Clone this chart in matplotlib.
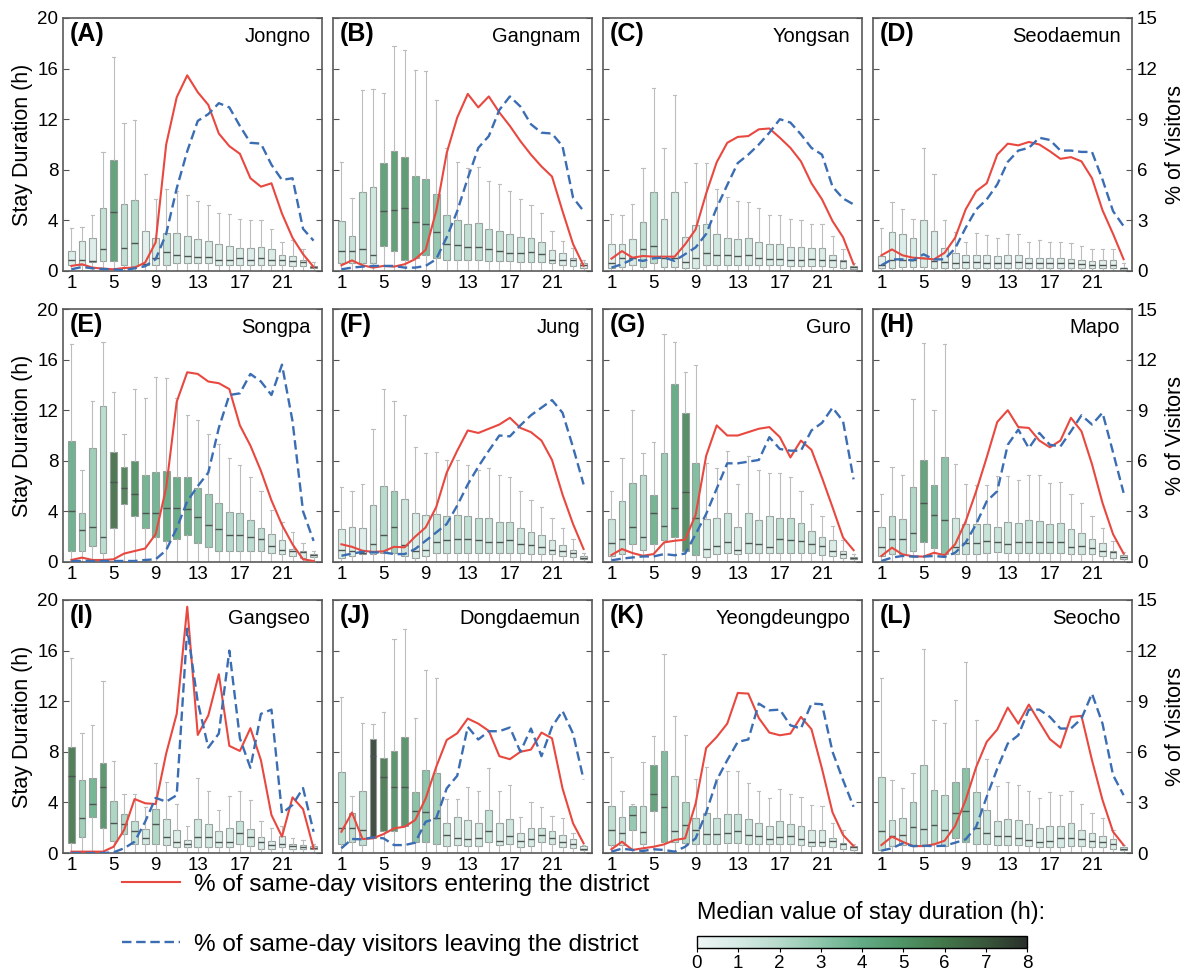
import numpy as np
import matplotlib
matplotlib.use("Agg")
import matplotlib.pyplot as plt
from matplotlib.colors import LinearSegmentedColormap, Normalize
from matplotlib.cm import ScalarMappable
from matplotlib.lines import Line2D

plt.rcParams['font.family'] = ['Liberation Sans', 'DejaVu Sans']

hours = list(range(1, 25))
letters = ['A', 'B', 'C', 'D', 'E', 'F', 'G', 'H', 'I', 'J', 'K', 'L']
districts = ['Jongno', 'Gangnam', 'Yongsan', 'Seodaemun', 'Songpa', 'Jung',
             'Guro', 'Mapo', 'Gangseo', 'Dongdaemun', 'Yeongdeungpo', 'Seocho']

# stay duration boxes (h): q1, median, q3, upper whisker; lower whiskers reach 0
jongno_q1 = [0.5,0.5,0.7,0.8,0.8,0.5,0.4,0.5,0.5,0.5,0.6,0.6,0.6,0.6,0.5,0.5,0.5,0.5,0.5,0.5,0.45,0.4,0.4,0.2]
jongno_med = [0.85,0.9,0.8,1.7,4.7,1.8,2.2,0.55,1.05,1.5,1.3,1.2,1.1,1.1,0.9,0.9,1.0,0.85,1.0,0.9,0.85,0.8,0.7,0.3]
jongno_q3 = [1.6,2.4,2.6,5.0,8.8,5.3,5.6,3.2,2.6,3.0,3.0,2.8,2.5,2.4,2.1,2.0,1.8,1.8,1.9,1.7,1.25,1.2,0.9,0.4]
jongno_whi = [3.4,3.5,4.4,9.4,16.9,11.7,11.9,7.7,5.7,6.5,6.3,6.0,5.5,5.2,4.6,4.5,4.1,4.0,4.0,3.3,2.3,2.45,1.7,0.7]
jongno_in = [0.3,0.4,0.2,0.14,0.1,0.18,0.2,0.5,1.7,7.5,10.3,11.6,10.6,9.85,8.15,7.4,6.95,5.5,5.0,5.2,3.4,1.97,1.0,0.24]
jongno_out = [0.1,0.24,0.16,0.12,0.1,0.04,0.16,0.28,0.7,2.2,4.9,7.1,8.9,9.3,9.95,9.7,8.6,7.6,7.55,6.3,5.4,5.5,2.5,1.8]

gangnam_q1 = [0.6,0.6,0.6,0.6,2.0,1.6,0.85,1.05,1.25,1.05,0.9,0.9,0.85,0.85,0.8,0.8,0.8,0.75,0.75,0.75,0.65,0.5,0.4,0.25]
gangnam_med = [1.6,1.6,1.75,1.3,4.75,4.8,5.0,3.9,3.7,3.05,2.1,2.05,1.9,1.9,1.75,1.6,1.45,1.45,1.5,1.35,0.9,0.85,0.85,0.45]
gangnam_q3 = [3.95,2.75,6.25,6.65,8.5,9.5,9.05,7.5,7.25,6.1,4.4,4.0,3.75,3.8,3.3,3.2,2.9,2.7,2.6,2.3,1.65,1.4,1.05,0.6]
gangnam_whi = [8.6,5.8,14.3,14.4,14.1,17.8,17.5,15.9,15.8,13.5,9.7,8.6,8.15,8.25,7.1,6.85,6.3,5.7,5.2,4.55,3.15,2.35,1.8,0.9]
gangnam_in = [0.34,0.63,0.34,0.2,0.3,0.26,0.4,0.7,1.25,3.55,7.0,9.1,10.5,9.7,10.35,9.4,8.6,7.7,6.9,6.2,5.6,3.55,1.6,0.3]
gangnam_out = [0.1,0.2,0.26,0.3,0.3,0.3,0.2,0.2,0.3,0.7,2.0,3.55,5.5,7.3,8.0,9.55,10.35,9.75,8.7,8.2,8.15,7.4,4.35,3.55]

yongsan_q1 = [0.25,0.3,0.45,0.3,0.6,0.3,0.3,0.25,0.25,0.5,0.5,0.5,0.45,0.45,0.5,0.45,0.45,0.4,0.4,0.4,0.4,0.3,0.25,0.15]
yongsan_med = [0.65,1.05,1.05,1.7,2.0,1.05,1.05,0.75,1.0,1.45,1.3,1.25,1.15,1.25,1.05,0.95,0.95,0.85,0.9,0.95,0.9,0.85,0.8,0.3]
yongsan_q3 = [2.1,2.15,2.55,3.85,6.25,4.15,6.25,2.65,3.6,3.75,2.95,2.6,2.5,2.6,2.3,2.1,2.1,1.9,1.9,1.8,1.85,1.3,0.9,0.4]
yongsan_whi = [4.5,4.4,5.3,8.15,14.5,9.7,13.9,7.0,8.55,8.55,6.5,5.85,5.5,5.45,4.95,4.45,4.45,4.1,4.05,3.75,3.7,2.75,1.75,0.65]
yongsan_in = [0.73,1.18,0.79,0.89,0.85,0.85,0.85,1.58,2.47,4.6,6.45,7.6,7.95,8.0,8.4,8.45,7.9,7.3,6.5,5.2,4.25,2.96,2.0,0.4]
yongsan_out = [0.2,0.4,0.7,0.6,0.75,0.8,0.6,1.0,1.4,2.2,3.75,5.1,6.4,6.9,7.5,8.2,9.0,8.8,8.1,7.3,6.9,5.0,4.3,3.95]

seodaemun_q1 = [0.25,0.25,0.3,0.3,0.3,0.25,0.25,0.25,0.25,0.25,0.25,0.25,0.25,0.25,0.25,0.25,0.25,0.25,0.25,0.25,0.2,0.2,0.2,0.1]
seodaemun_med = [0.5,0.9,0.85,0.9,1.0,0.8,0.75,0.65,0.75,0.75,0.65,0.6,0.65,0.7,0.65,0.6,0.6,0.6,0.6,0.55,0.5,0.5,0.5,0.2]
seodaemun_q3 = [1.2,3.1,2.95,2.6,4.0,3.2,1.8,1.4,1.3,1.3,1.25,1.15,1.25,1.3,1.0,1.05,1.0,1.0,0.95,0.9,0.8,0.85,0.85,0.25]
seodaemun_whi = [3.4,5.45,4.9,4.15,9.7,7.7,4.0,3.1,2.3,3.0,2.85,2.6,2.9,2.9,2.3,2.45,2.3,2.3,2.25,2.0,1.7,1.75,1.7,0.6]
seodaemun_in = [0.93,1.28,0.93,0.79,0.75,0.69,1.08,1.97,3.65,4.73,5.2,6.9,7.55,7.45,7.65,7.5,7.1,6.65,6.75,6.5,5.5,3.6,2.2,0.7]
seodaemun_out = [0.34,0.69,0.69,0.63,0.99,0.69,0.69,1.34,2.56,3.65,4.24,5.13,6.47,7.14,7.3,7.9,7.77,7.14,7.14,7.06,7.06,5.42,3.55,2.66]

songpa_q1 = [0.85,0.9,1.25,0.75,2.7,4.55,3.65,2.7,2.0,1.65,1.8,2.1,1.5,1.2,0.9,0.9,0.9,0.9,0.85,0.75,0.65,0.5,0.35,0.4]
songpa_med = [4.0,2.5,2.8,2.0,6.35,5.85,5.4,3.9,3.9,4.3,4.25,4.2,3.55,2.9,2.6,2.1,2.1,2.0,1.85,1.3,0.95,0.85,0.8,0.55]
songpa_q3 = [9.6,3.85,9.0,12.3,8.7,7.5,7.95,6.85,7.1,7.2,6.75,6.7,5.85,5.35,4.7,3.95,3.85,3.3,2.7,2.2,1.7,1.0,0.85,0.65]
songpa_whi = [17.2,7.25,12.75,17.4,13.45,10.15,13.7,13.0,14.6,14.55,13.0,11.6,11.25,10.1,9.35,8.2,7.65,6.7,5.6,4.1,3.15,2.35,1.5,0.9]
songpa_in = [0.12,0.26,0.12,0.12,0.16,0.5,0.65,0.8,1.65,4.4,9.5,11.25,11.15,10.7,10.6,10.25,8.1,6.9,5.4,3.65,2.2,1.05,0.16,0.06]
songpa_out = [0.06,0.06,0.06,0.06,0.06,0.06,0.06,0.12,0.16,0.7,2.0,3.6,4.5,5.3,7.95,9.9,10.0,11.15,10.7,9.9,11.7,8.35,3.0,1.25]

jung_q1 = [0.35,0.5,0.6,0.6,0.75,0.75,0.5,0.35,0.5,0.75,0.75,0.75,0.75,0.75,0.75,0.75,0.75,0.7,0.6,0.6,0.6,0.5,0.4,0.25]
jung_med = [0.95,0.9,0.75,1.4,2.1,2.75,1.35,0.9,0.95,1.6,1.7,1.8,1.8,1.75,1.6,1.6,1.7,1.4,1.35,1.15,0.95,0.9,0.75,0.35]
jung_q3 = [2.6,2.75,2.7,4.5,6.0,5.6,5.0,3.85,3.75,3.8,3.65,3.7,3.6,3.45,3.45,3.2,3.15,2.65,2.4,2.15,1.7,1.35,0.95,0.45]
jung_whi = [5.95,5.6,6.15,10.5,13.65,12.7,11.6,9.1,8.6,8.7,8.05,8.1,7.65,7.25,7.45,6.85,6.75,5.6,4.9,4.35,3.45,2.65,1.85,0.75]
jung_in = [1.05,0.9,0.67,0.6,0.63,0.9,0.87,1.5,2.05,3.25,5.3,6.6,7.8,7.65,7.9,8.15,8.55,7.95,7.7,7.2,6.05,4.0,2.25,0.77]
jung_out = [0.37,0.5,0.6,0.57,0.57,0.47,0.47,0.77,1.26,1.75,2.25,3.35,4.6,5.65,6.6,7.5,7.45,8.1,8.7,9.15,9.6,8.85,6.8,4.6]

guro_q1 = [0.5,0.65,1.45,0.95,1.45,1.75,2.0,0.9,0.55,0.4,0.6,0.7,0.6,0.7,0.7,0.7,0.7,0.7,0.7,0.7,0.55,0.5,0.35,0.25]
guro_med = [1.5,1.8,2.75,1.95,3.9,2.85,4.3,5.55,3.5,1.0,1.25,1.55,0.95,1.5,1.45,1.15,1.8,1.75,1.65,1.45,1.25,0.9,0.6,0.3]
guro_q3 = [3.4,4.85,6.25,6.9,5.3,8.65,14.1,11.75,7.85,3.4,3.45,3.85,2.8,3.85,3.35,3.65,3.5,3.45,3.05,2.45,2.0,1.7,0.9,0.4]
guro_whi = [5.6,8.25,12.0,8.6,9.5,18.0,17.4,15.0,15.55,7.8,7.4,8.8,6.15,8.35,7.3,7.0,7.0,6.7,5.6,4.6,3.6,2.85,1.75,0.65]
guro_in = [0.41,0.77,0.53,0.37,0.47,1.16,1.26,1.32,2.8,6.3,8.1,7.5,7.5,7.7,7.9,8.0,7.4,6.2,7.2,6.65,5.0,3.25,1.45,0.7]
guro_out = [0.1,0.2,0.27,0.33,0.33,0.47,0.4,0.5,1.65,2.85,4.35,5.85,5.85,5.95,6.05,7.4,6.7,6.6,6.6,7.8,8.25,9.15,8.35,4.9]

mapo_q1 = [0.5,0.65,0.65,0.85,1.6,1.1,0.6,0.6,0.65,0.65,0.75,0.8,0.75,0.75,0.75,0.75,0.75,0.75,0.65,0.6,0.6,0.5,0.3,0.2]
mapo_med = [1.2,1.8,1.8,2.3,4.7,3.75,3.3,1.2,1.5,1.5,1.65,1.55,1.4,1.55,1.55,1.55,1.6,1.55,1.2,1.3,1.1,0.9,0.8,0.4]
mapo_q3 = [2.8,3.6,3.4,5.9,8.05,6.1,8.3,3.45,3.0,3.0,3.0,2.8,3.2,3.05,3.3,3.25,3.0,3.05,2.6,2.3,1.85,1.5,0.9,0.55]
mapo_whi = [5.35,7.5,6.85,12.9,17.3,12.0,17.2,7.75,6.15,6.1,6.1,6.8,6.8,6.45,6.9,6.9,6.25,6.35,5.35,4.7,3.6,2.7,1.65,0.8]
mapo_in = [0.36,0.85,0.45,0.34,0.32,0.55,0.4,1.05,2.4,4.2,6.2,8.3,9.0,8.0,7.95,7.2,6.8,7.2,8.55,7.75,5.8,3.5,1.65,0.5]
mapo_out = [0.06,0.26,0.36,0.32,0.32,0.36,0.3,0.55,1.15,2.25,3.6,4.2,6.95,7.85,6.75,7.65,6.95,6.85,7.75,8.7,8.15,8.85,6.5,4.1]

gangseo_q1 = [0.8,1.3,2.85,2.0,0.95,1.5,0.75,0.7,0.75,0.65,0.45,0.5,0.5,0.5,0.5,0.5,0.75,0.55,0.35,0.35,0.45,0.35,0.3,0.3]
gangseo_med = [6.1,2.75,3.85,5.2,2.4,2.3,1.75,1.2,2.3,1.3,0.9,0.7,1.25,1.25,0.9,0.9,1.55,1.25,0.85,0.65,0.75,0.55,0.5,0.4]
gangseo_q3 = [8.35,5.8,5.95,7.1,4.1,3.1,2.5,1.9,3.5,2.65,1.8,1.05,2.7,2.3,1.7,2.0,2.5,1.9,1.25,0.95,1.35,0.7,0.65,0.55]
gangseo_whi = [15.4,9.5,10.1,13.6,7.25,4.7,4.65,3.65,7.1,5.6,3.9,2.15,5.95,4.9,3.4,4.5,4.9,4.2,2.5,1.95,2.15,1.15,1.0,0.7]
gangseo_in = [0.08,0.08,0.08,0.08,0.37,1.36,3.2,2.95,2.9,5.9,8.25,14.6,7.0,8.15,10.6,6.35,6.05,7.4,5.5,2.25,0.97,3.3,2.6,0.28]
gangseo_out = [0.0,0.0,0.0,0.0,0.04,0.28,0.67,1.85,3.27,3.04,3.43,13.3,8.95,6.25,7.08,12.0,6.8,5.05,8.25,8.5,2.35,2.85,3.85,1.26]

dongdaemun_q1 = [0.75,0.9,0.65,1.15,1.75,1.75,2.15,0.9,0.9,0.75,0.55,0.65,0.55,0.55,0.9,0.65,0.75,0.5,0.55,0.85,0.75,0.5,0.4,0.25]
dongdaemun_med = [2.0,1.95,1.85,7.65,6.0,5.25,5.25,3.3,3.25,2.75,1.4,1.15,1.1,1.15,1.7,0.95,1.35,0.95,1.1,1.4,1.2,0.9,0.7,0.35]
dongdaemun_q3 = [6.4,3.2,4.9,9.0,7.5,8.05,9.2,4.85,6.55,6.3,2.4,2.85,2.6,2.4,3.4,2.4,2.65,1.6,2.0,2.0,1.7,1.4,1.1,0.55]
dongdaemun_whi = [12.35,4.5,10.25,10.2,11.15,16.9,17.7,10.65,14.5,13.8,4.3,4.3,5.25,4.9,6.7,4.9,5.35,2.85,4.05,3.6,2.95,2.8,1.55,0.6]
dongdaemun_in = [1.26,2.4,0.83,0.87,1.12,1.46,1.56,1.95,3.23,5.1,6.7,7.1,7.97,7.67,7.24,5.74,5.56,6.0,6.13,7.14,6.8,3.83,1.76,0.57]
dongdaemun_out = [0.28,0.83,0.81,0.93,0.87,0.47,0.47,0.61,1.85,2.05,3.83,4.58,7.48,6.73,7.22,7.22,7.44,6.0,7.38,5.74,7.48,8.42,7.08,4.36]

yeongdeungpo_q1 = [0.65,0.65,1.85,0.7,3.35,0.9,0.9,0.8,0.75,0.75,0.75,0.8,0.8,0.75,0.75,0.7,0.7,0.7,0.65,0.55,0.55,0.5,0.35,0.25]
yeongdeungpo_med = [1.85,1.55,3.0,1.65,4.65,3.6,1.75,2.25,1.8,1.5,1.5,1.55,1.7,1.4,1.35,1.1,1.3,1.35,1.1,0.9,0.9,0.95,0.7,0.5]
yeongdeungpo_q3 = [3.75,2.85,3.7,3.75,6.95,8.05,6.1,4.05,2.8,3.2,2.8,3.1,3.1,2.7,2.4,2.15,2.5,2.3,2.15,1.8,1.8,1.15,0.8,0.55]
yeongdeungpo_whi = [7.6,4.9,3.9,7.2,9.25,15.75,10.8,9.3,5.85,6.8,5.85,6.5,6.5,5.55,4.9,4.35,5.05,4.7,4.4,3.8,3.75,2.4,1.8,0.75]
yeongdeungpo_in = [0.22,0.67,0.18,0.28,0.37,0.51,0.77,0.87,2.94,6.23,6.88,7.67,9.49,9.45,8.0,7.14,6.98,7.08,8.07,7.34,5.0,2.41,1.07,0.41]
yeongdeungpo_out = [0.08,0.26,0.18,0.12,0.22,0.18,0.08,0.37,0.87,2.39,4.32,5.5,6.59,6.73,8.86,8.46,8.5,7.57,7.38,8.86,8.82,6.0,4.32,2.74]

seocho_q1 = [0.25,0.55,0.65,0.55,0.55,0.8,0.55,1.15,0.9,0.7,0.7,0.65,0.65,0.65,0.55,0.5,0.5,0.5,0.55,0.55,0.5,0.5,0.35,0.25]
seocho_med = [1.75,1.35,1.4,2.05,1.9,2.25,1.8,3.15,3.35,2.0,1.55,1.35,1.35,1.2,1.05,0.9,0.95,1.15,1.2,1.1,0.95,0.9,0.75,0.3]
seocho_q3 = [6.0,2.6,2.8,4.05,6.95,4.95,4.6,5.6,6.75,4.8,3.4,2.55,2.7,2.6,2.3,2.0,2.15,2.15,2.35,1.8,1.55,1.35,1.1,0.45]
seocho_whi = [13.85,5.8,5.15,6.35,16.1,10.5,10.3,12.1,15.1,10.55,7.45,5.3,5.6,5.4,4.9,4.35,4.8,4.6,4.9,3.85,3.15,2.8,1.8,0.6]
seocho_in = [0.47,0.97,0.67,0.41,0.41,0.51,0.73,1.6,3.14,5.1,6.59,7.32,8.62,7.67,8.8,7.77,6.75,6.25,8.07,8.13,5.5,3.14,1.26,0.47]
seocho_out = [0.14,0.28,0.57,0.41,0.43,0.41,0.43,0.61,0.81,1.56,3.33,5.0,6.49,6.98,8.5,8.5,8.07,7.38,7.38,7.97,9.45,7.67,4.62,3.43]

all_q1 = [jongno_q1, gangnam_q1, yongsan_q1, seodaemun_q1, songpa_q1, jung_q1,
          guro_q1, mapo_q1, gangseo_q1, dongdaemun_q1, yeongdeungpo_q1, seocho_q1]
all_med = [jongno_med, gangnam_med, yongsan_med, seodaemun_med, songpa_med, jung_med,
           guro_med, mapo_med, gangseo_med, dongdaemun_med, yeongdeungpo_med, seocho_med]
all_q3 = [jongno_q3, gangnam_q3, yongsan_q3, seodaemun_q3, songpa_q3, jung_q3,
          guro_q3, mapo_q3, gangseo_q3, dongdaemun_q3, yeongdeungpo_q3, seocho_q3]
all_whi = [jongno_whi, gangnam_whi, yongsan_whi, seodaemun_whi, songpa_whi, jung_whi,
           guro_whi, mapo_whi, gangseo_whi, dongdaemun_whi, yeongdeungpo_whi, seocho_whi]
all_in = [jongno_in, gangnam_in, yongsan_in, seodaemun_in, songpa_in, jung_in,
          guro_in, mapo_in, gangseo_in, dongdaemun_in, yeongdeungpo_in, seocho_in]
all_out = [jongno_out, gangnam_out, yongsan_out, seodaemun_out, songpa_out, jung_out,
           guro_out, mapo_out, gangseo_out, dongdaemun_out, yeongdeungpo_out, seocho_out]

cmap = LinearSegmentedColormap.from_list('stay', ['#eef5f5', '#d6eae4', '#b6dacb', '#8dc5aa',
                                                  '#62ab85', '#4f9366', '#43774a', '#39573b', '#2a2f2a'])
norm = Normalize(0, 8)

red = '#e8483f'
blue = '#3b6db3'
dash = (0, (4, 2))

fig = plt.figure(figsize=(11.84, 9.73), dpi=100)
W, H = 1184, 973

for k in range(12):
    row, col = divmod(k, 4)
    left = (63 + 270 * col) / W
    top = 18 + 291 * row
    ax = fig.add_axes([left, 1 - (top + 253) / H, 259 / W, 253 / H])

    stats = []
    for i in range(24):
        stats.append({'whislo': 0.0, 'q1': all_q1[k][i], 'med': all_med[k][i],
                      'q3': all_q3[k][i], 'whishi': all_whi[k][i]})
    bp = ax.bxp(stats, positions=hours, widths=0.65, patch_artist=True, showfliers=False,
                capwidths=0.3,
                boxprops=dict(edgecolor='#8f9a96', linewidth=0.8),
                medianprops=dict(color='#4d5552', linewidth=1.0),
                whiskerprops=dict(color='#bdbdbd', linewidth=0.8),
                capprops=dict(color='#bdbdbd', linewidth=0.8))
    for patch, m in zip(bp['boxes'], all_med[k]):
        patch.set_facecolor(cmap(norm(m)))
        patch.set_alpha(0.9)

    ax.set_xlim(0.2, 24.8)
    ax.set_ylim(0, 20)
    ax.set_xticks([1, 5, 9, 13, 17, 21])
    ax.set_xticklabels(['1', '5', '9', '13', '17', '21'])
    ax.set_yticks([0, 4, 8, 12, 16, 20])
    ax.tick_params(axis='x', length=0, labelsize=13.5, pad=3)
    ax.tick_params(axis='y', direction='in', length=4, labelsize=13.5, color='#555555',
                   labelleft=(col == 0))
    for s in ax.spines.values():
        s.set_color('#5a5a5a')
        s.set_linewidth(1.2)
    if col == 0:
        ax.set_ylabel('Stay Duration (h)', fontsize=15.5, labelpad=3)

    ax2 = ax.twinx()
    ax2.plot(hours, all_in[k], color=red, lw=1.5)
    ax2.plot(hours, all_out[k], color=blue, lw=1.7, ls=dash)
    ax2.set_ylim(0, 15)
    ax2.set_yticks([0, 3, 6, 9, 12, 15])
    ax2.tick_params(axis='y', direction='in', length=4, labelsize=13.5, color='#555555',
                    labelright=(col == 3))
    for s in ax2.spines.values():
        s.set_visible(False)
    if col == 3:
        ax2.set_ylabel('% of Visitors', fontsize=15.5, labelpad=5)

    ax.text(0.027, 0.935, '(' + letters[k] + ')', transform=ax.transAxes,
            fontsize=18, fontweight='bold', va='center', ha='left')
    ax.text(0.955, 0.928, districts[k], transform=ax.transAxes,
            fontsize=14.5, va='center', ha='right')

handles = [Line2D([], [], color=red, lw=1.5),
           Line2D([], [], color=blue, lw=1.7, ls=dash)]
fig.legend(handles, ['% of same-day visitors entering the district',
                     '% of same-day visitors leaving the district'],
           loc='upper left', bbox_to_anchor=(100 / W, 1 - 852 / H), frameon=False,
           fontsize=17.5, handlelength=2.4, handletextpad=0.55, labelspacing=1.55)

fig.text(697 / W, 1 - 912 / H, 'Median value of stay duration (h):', fontsize=16.8,
         ha='left', va='center')
cax = fig.add_axes([697 / W, 1 - 948 / H, 330 / W, 12 / H])
cb = fig.colorbar(ScalarMappable(norm=norm, cmap=cmap), cax=cax, orientation='horizontal',
                  ticks=list(range(9)))
cb.ax.tick_params(labelsize=13.5, length=3, pad=2)
cb.outline.set_linewidth(1.0)

fig.savefig('out.png', dpi=100)
